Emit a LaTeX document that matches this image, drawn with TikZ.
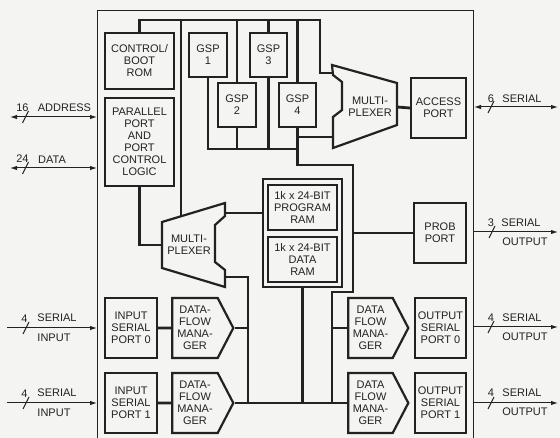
\documentclass[tikz,border=0pt]{standalone}
\usepackage{fontspec}
\setmainfont{Liberation Sans}
\usetikzlibrary{arrows.meta,shapes.symbols}
\definecolor{ink}{HTML}{222222}
\definecolor{paper}{HTML}{F4F4F2}

\begin{document}
\begin{tikzpicture}[x=1pt,y=-1pt,
  >={Latex[length=7pt,width=4.5pt]},
  blk/.style={draw=ink,line width=2.2pt,align=center,inner sep=0pt,text=ink,
    font=\fontsize{11}{12}\selectfont},
  dfm/.style={blk,signal,signal to=east,signal pointer angle=125},
  outl/.style={draw=ink,line width=2.2pt},
  bus/.style={draw=ink,line width=2.8pt},
  sig/.style={draw=ink,line width=1pt},
  lbl/.style={inner sep=0pt,align=center,text=ink,font=\fontsize{11}{12}\selectfont}]

% Paper and bounding box
\fill[paper] (0,0) rectangle (560,438);
\useasboundingbox (0,0) rectangle (560,438);

% Draw chip outline (runs off the bottom edge)
\draw[sig] (97,438) -- (97,11) -- (473,11) -- (473,438);

% Left column
\node[blk,minimum width=69pt,minimum height=56pt] (rom) at (139.5,61) {CONTROL/\\BOOT\\ROM};
\node[blk,minimum width=69pt,minimum height=88pt] (ppc) at (139.5,142) {PARALLEL\\PORT\\AND\\PORT\\CONTROL\\LOGIC};

% Draw GSPs
\node[blk,minimum width=38pt,minimum height=44pt] (gspone) at (208,55) {GSP\\1};
\node[blk,minimum width=38pt,minimum height=44pt] (gsptwo) at (237,105) {GSP\\2};
\node[blk,minimum width=37pt,minimum height=44pt] (gspthree) at (268.5,55) {GSP\\3};
\node[blk,minimum width=37pt,minimum height=44pt] (gspfour) at (297.5,105) {GSP\\4};

% Draw upper multiplexer
\node[lbl] (muxa) at (370,107) {MULTI-\\PLEXER};
\draw[outl] (332,65) -- (397,83) -- (397,125) -- (333,148) -- (333,117)
  -- (342,110) -- (342,82) -- (333,75) -- cycle;
\coordinate (muxain) at (332.5,73);
\coordinate (muxaintwo) at (333,137);
\coordinate (muxaout) at (397,107);

% Draw lower multiplexer
\node[lbl] (muxb) at (189,245) {MULTI-\\PLEXER};
\draw[outl] (162,222) -- (225,203) -- (225,216) -- (215,225) -- (215,262)
  -- (225,270) -- (225,287) -- (162,268) -- cycle;
\coordinate (muxbtop) at (181,216);
\coordinate (muxbin) at (162,245);
\coordinate (muxbout) at (225,213);
\coordinate (muxbouttwo) at (225,277);

% Ports on the right
\node[blk,minimum width=55pt,minimum height=60pt] (access) at (438.5,108) {ACCESS\\PORT};
\node[blk,minimum width=52pt,minimum height=60pt] (prob) at (440,233) {PROB\\PORT};

% Draw RAM block
\node[blk,minimum width=79pt,minimum height=108pt] (ram) at (302.5,233) {};
\node[blk,line width=1.6pt,minimum width=69pt,minimum height=45pt] (pram) at (302.5,207.5) {1k x 24-BIT\\PROGRAM\\RAM};
\node[blk,line width=1.6pt,minimum width=69pt,minimum height=45pt] (dram) at (302.5,259.5) {1k x 24-BIT\\DATA\\RAM};

% Serial ports and data flow managers
\node[blk,minimum width=52pt,minimum height=60pt] (inzero) at (131,328) {INPUT\\SERIAL\\PORT 0};
\node[blk,minimum width=52pt,minimum height=60pt] (inone) at (131,403) {INPUT\\SERIAL\\PORT 1};
\node[dfm,minimum width=61pt,minimum height=60pt] (dfmzero) at (195,328) {DATA-\\FLOW\\MANA-\\GER};
\node[dfm,minimum width=61pt,minimum height=60pt] (dfmone) at (195,403) {DATA-\\FLOW\\MANA-\\GER};
\node[dfm,minimum width=60pt,minimum height=60pt] (dfmtwo) at (370.5,328) {DATA\\FLOW\\MANA-\\GER};
\node[dfm,minimum width=60pt,minimum height=60pt] (dfmthree) at (370.5,403) {DATA\\FLOW\\MANA-\\GER};
\node[blk,minimum width=51pt,minimum height=60pt] (outzero) at (440.5,328) {OUTPUT\\SERIAL\\PORT 0};
\node[blk,minimum width=51pt,minimum height=60pt] (outone) at (440.5,403) {OUTPUT\\SERIAL\\PORT 1};

% Top bus
\coordinate (tb) at (320,20);
\draw[bus] (rom.north) |- (tb) |- (muxain);
\draw[bus] (muxbtop) -- (muxbtop |- tb);
\foreach \g in {gsptwo,gspthree,gspfour}
  \draw[bus] (\g.north) -- (\g.north |- tb);

% GSP bus and right bus
\coordinate (gb) at (297.5,149);
\coordinate (rb) at (353,165);
\coordinate (rbb) at (332,403);
\draw[bus] (gspone.south) |- (gb);
\draw[bus] (gsptwo.south) -- (gsptwo.south |- gb);
\draw[bus] (gspthree.south) -- (gspthree.south |- gb);
\draw[bus] (gspfour.south) |- (rb) -- (353,292) -| (rbb);
\draw[bus] (gspfour.south |- muxaintwo) -- (muxaintwo);
\draw[bus] (muxaout) -- (access.west);
\draw[bus] (rb |- prob.west) -- (prob.west);
\draw[bus] (rbb |- dfmtwo.west) -- (dfmtwo.west);

% Lower bus
\coordinate (lb) at (248,403);
\draw[bus] (dfmone.east) -- (dfmthree.west);
\draw[bus] (ram.south) -- (ram.south |- lb);
\draw[bus] (muxbouttwo) -| (lb);
\draw[bus] (dfmzero.east) -- (dfmzero.east -| lb);
\draw[bus] (ppc.south) |- (muxbin);
\draw[bus] (muxbout) -- (muxbout -| ram.west);
\draw[bus] (inzero) -- (dfmzero);
\draw[bus] (inone) -- (dfmone);

% Left signals
\coordinate (addr) at (97,117);
\coordinate (data) at (97,168);
\coordinate (sinzero) at (97,328);
\coordinate (sinone) at (97,403);
\draw[sig,<->] (addr) -- ++(-87,0);
\draw[sig,<->] (data) -- ++(-87,0);
\draw[sig,->] (sinzero) ++(-90,0) -- (sinzero);
\draw[sig,->] (sinone) ++(-90,0) -- (sinone);
\draw[sig] (22.5,123) -- (28.5,111);
\draw[sig] (22.5,174) -- (28.5,162);
\draw[sig] (23,334) -- (29,322);
\draw[sig] (23,409) -- (29,397);
\node[lbl] (addrn) at (22.5,107.5) {16};
\node[lbl] (addrt) at (64.5,108) {ADDRESS};
\node[lbl] (datan) at (22.5,159) {24};
\node[lbl] (datat) at (52,159.5) {DATA};
\node[lbl] (sinzeron) at (24.5,319) {4};
\node[lbl] (sinzerot) at (57,318) {SERIAL};
\node[lbl] (sinzerob) at (54,338) {INPUT};
\node[lbl] (sinonen) at (24.5,394) {4};
\node[lbl] (sinonet) at (57,393) {SERIAL};
\node[lbl] (sinoneb) at (54,413) {INPUT};

% Right signals
\coordinate (sacc) at (474,107);
\coordinate (sprob) at (473,232);
\coordinate (soutzero) at (473,327);
\coordinate (soutone) at (473,403);
\draw[sig,<->] (sacc) -- ++(84,0);
\draw[sig,->] (sprob) -- ++(85,0);
\draw[sig,->] (soutzero) -- ++(85,0);
\draw[sig,->] (soutone) -- ++(85,0);
\draw[sig] (488,113) -- (494,101);
\draw[sig] (489,238) -- (495,226);
\draw[sig] (488,333) -- (494,321);
\draw[sig] (488,409) -- (494,397);
\node[lbl] (saccn) at (491,99) {6};
\node[lbl] (sacct) at (522,99) {SERIAL};
\node[lbl] (sprobn) at (491,223) {3};
\node[lbl] (sprobt) at (521,223) {SERIAL};
\node[lbl] (sprobb) at (525,242) {OUTPUT};
\node[lbl] (soutzeron) at (491,318) {4};
\node[lbl] (soutzerot) at (522,318) {SERIAL};
\node[lbl] (soutzerob) at (525,337) {OUTPUT};
\node[lbl] (soutonen) at (491,393) {4};
\node[lbl] (soutonet) at (522,393) {SERIAL};
\node[lbl] (soutoneb) at (525,412) {OUTPUT};

\end{tikzpicture}
\end{document}
